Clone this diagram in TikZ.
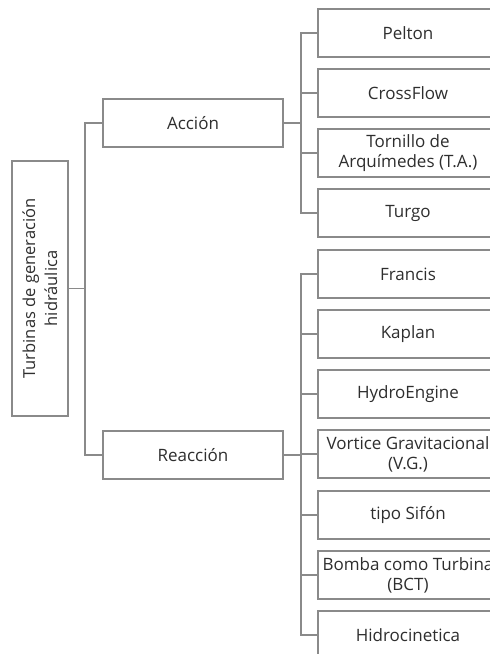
\documentclass[tikz,border=0pt]{standalone}
\usepackage{fontspec}
\setmainfont{Open Sans}
\begin{document}
\begin{tikzpicture}[x=1pt, y=-1pt,
    box/.style={draw=lineColour, line width=1.2pt, fill=white, text=textColour,
        minimum width=180pt, minimum height=48pt, inner sep=0pt, align=center,
        font=\fontsize{17}{20}\selectfont},
    link/.style={draw=lineColour, line width=1.4pt}]
    \definecolor{lineColour}{HTML}{8A8A8A}
    \definecolor{textColour}{HTML}{2E2E2E}

    \useasboundingbox (0,0) rectangle (490,654);

    % Root box, text turned upright
    \node[box, rotate=90, minimum width=255pt, minimum height=56pt,
        font=\fontsize{16.5}{22}\selectfont] (root) at (40,288.5)
        {Turbinas de generación\\hidráulica};

    % First level
    \node[box] (accion) at (193,123) {Acción};
    \node[box] (reaccion) at (193,455) {Reacción};

    % Turbine types
    \foreach \name/\txt/\y in {pelton/Pelton/33, crossflow/CrossFlow/93,
            tornillo/{Tornillo de\\Arquímedes (T.A.)}/153, turgo/Turgo/213,
            francis/Francis/274, kaplan/Kaplan/334, hydro/HydroEngine/394,
            vortice/{Vortice Gravitacional\\(V.G.)}/454, sifon/tipo Sifón/515,
            bomba/{Bomba como Turbina\\(BCT)}/575, hidro/Hidrocinetica/635}
        \node[box] (\name) at (408,\y) {\txt};

    % Draw connectors
    \coordinate (trunk) at (85,0);
    \coordinate (branchA) at (301,0);
    \coordinate (branchR) at (301,0);

    \draw[link] (root.south) -| (trunk |- accion.west) -- (accion.west);
    \draw[link] (trunk |- root.south) |- (reaccion.west);

    \draw[link] (accion.east) -- (branchA |- accion.east);
    \foreach \name in {pelton,crossflow,tornillo,turgo}
        \draw[link] (branchA |- accion.east) |- (\name.west);

    \draw[link] (reaccion.east) -- (branchR |- reaccion.east);
    \foreach \name in {francis,kaplan,hydro,vortice,sifon,bomba,hidro}
        \draw[link] (branchR |- reaccion.east) |- (\name.west);

\end{tikzpicture}
\end{document}
